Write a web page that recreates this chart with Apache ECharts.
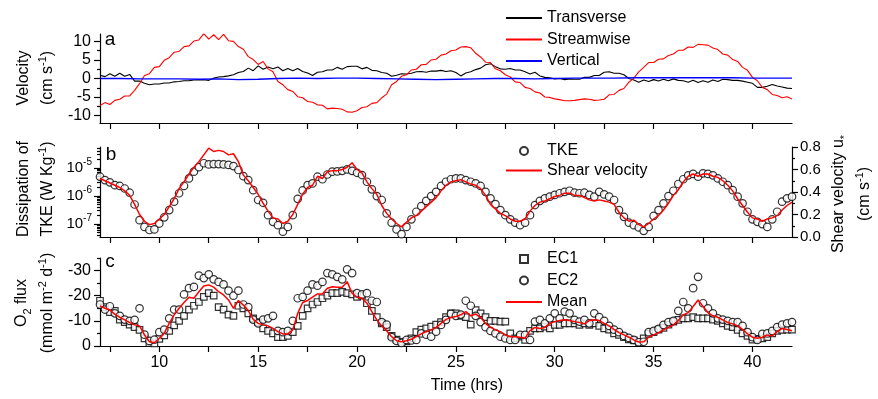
<!DOCTYPE html>
<html>
<head>
<meta charset="utf-8">
<script src="https://cdn.jsdelivr.net/npm/echarts@6/dist/echarts.min.js"></script>
<style>
  html, body { margin: 0; padding: 0; background: #fff; }
  #chart { width: 878px; height: 399px; }
</style>
</head>
<body>
<div id="chart"></div>
<script>
// sampling of the records: every 15 min from 7 h
const sampleStart = 7;
const sampleStep = 0.25;

// panel a - velocity (cm s-1)
const transverse = [
  0.9, 0.5, 1.3, 0.6, 1.4, 0.6, 1.1, -0.7, -0.7, -1.3, -1.7, -1.5, -1.5, -1.2, -1.2, -0.9, -0.8, -0.6, -0.6, -0.4,
  -0.4, -0.3, -0.5, 0.1, 0.4, 0.5, 0.7, 1.0, 1.6, 1.9, 2.8, 2.1, 3.4, 2.5, 3.1, 2.6, 3.1, 2.1, 2.7, 2.1,
  2.7, 1.9, 1.5, 0.8, 1.7, 1.8, 2.3, 2.3, 3.0, 2.5, 3.2, 3.3, 3.3, 2.6, 3.0, 2.2, 2.1, 1.6, 1.4, 0.6,
  0.9, 1.3, 1.2, 1.4, 1.8, 1.9, 1.7, 2.0, 2.0, 2.2, 1.9, 2.1, 1.6, 0.7, 1.5, 1.8, 2.4, 2.8, 3.7, 4.0,
  3.2, 2.6, 2.5, 2.7, 2.3, 2.3, 1.8, 1.2, 1.7, 0.7, 0.3, 0.2, -0.1, 0.0, -0.3, -0.1, -0.2, -0.2, 0.3, 0.3,
  0.8, 0.8, 1.7, 1.8, 1.4, 1.4, 1.0, 0.0, -0.4, -1.0, -0.4, -0.8, -0.3, -0.7, -0.2, -0.6, -0.1, -0.5, -0.6, -1.0,
  -0.5, -1.1, -0.6, -1.0, -0.4, -0.8, -0.2, -0.3, -0.5, -0.5, -0.7, -1.0, -1.3, -2.4, -2.4, -2.1, -1.6, -2.0, -2.3, -2.6,
  -2.7
];
const streamwise = [
  -7.3, -6.5, -7.0, -5.9, -5.6, -4.7, -4.7, -3.2, -1.4, 0.8, 1.3, 3.0, 3.2, 4.9, 5.6, 7.1, 7.3, 8.6, 8.8, 10.1,
  10.4, 12.1, 10.6, 11.8, 10.5, 11.9, 10.2, 10.0, 8.6, 7.9, 5.9, 5.1, 3.8, 4.6, 2.6, 1.8, -0.8, -1.7, -3.0, -3.5,
  -4.9, -5.2, -6.2, -6.4, -7.1, -7.2, -8.2, -8.0, -8.1, -8.3, -9.0, -9.1, -8.7, -7.8, -7.6, -6.7, -6.5, -5.2, -4.2, -1.7,
  -0.8, 0.6, 1.0, 2.3, 2.5, 3.7, 3.8, 5.0, 5.2, 6.3, 6.6, 7.5, 7.7, 8.5, 8.6, 8.3, 6.8, 5.8, 4.4, 4.3,
  2.6, 2.1, 1.0, 0.4, -0.9, -1.1, -2.4, -2.7, -3.6, -3.9, -5.0, -5.1, -5.5, -5.7, -6.0, -6.0, -5.9, -5.7, -5.5, -5.6,
  -5.9, -5.8, -5.6, -4.4, -4.3, -3.2, -2.7, -1.0, 0.1, 1.8, 3.0, 4.3, 4.3, 5.2, 5.3, 6.2, 6.6, 7.6, 7.6, 8.5,
  8.4, 9.2, 9.1, 9.0, 8.2, 7.8, 6.6, 6.3, 5.1, 4.6, 3.0, 2.2, 0.3, -0.6, -2.4, -3.0, -4.3, -4.6, -5.2, -4.9,
  -5.5
];
// vertical is read hourly from 7 h
const verticalStep = 1;
const vertical = [
  0.0, 0.0, -0.1, -0.1, -0.1, -0.2, -0.1, -0.3, -0.2, 0.0, 0.1, 0.0, 0.1, 0.1, 0.0, -0.1, -0.2, -0.3,
  -0.2, -0.1, 0.0, 0.0, -0.1, 0.0, 0.1, 0.1, 0.1, 0.2, 0.2, 0.2, 0.2, 0.2, 0.2, 0.1, 0.1, 0.1
];

// panel b - dissipation of TKE, as log10 (W kg-1)
const tkeLog10 = [
  -5.31, -5.43, -5.51, -5.61, -5.64, -5.73, -5.88, -6.30, -6.86, -7.10, -7.21, -7.19, -6.98, -6.76, -6.50, -6.20, -5.90, -5.64, -5.37, -5.13,
  -4.97, -4.83, -4.87, -4.86, -4.86, -4.87, -4.89, -4.93, -5.07, -5.29, -5.43, -5.79, -6.14, -6.24, -6.68, -6.92, -7.04, -7.27, -7.10, -6.68,
  -6.10, -5.80, -5.61, -5.55, -5.31, -5.40, -5.23, -5.13, -5.12, -5.10, -5.05, -5.10, -5.17, -5.25, -5.49, -5.76, -6.00, -6.14, -6.62, -6.95,
  -7.19, -7.36, -7.10, -6.83, -6.56, -6.36, -6.17, -6.00, -5.85, -5.64, -5.49, -5.40, -5.37, -5.37, -5.43, -5.49, -5.55, -5.64, -5.85, -6.08,
  -6.29, -6.50, -6.68, -6.83, -6.95, -7.04, -6.95, -6.68, -6.32, -6.17, -6.08, -6.02, -5.96, -5.90, -5.85, -5.81, -5.88, -5.90, -5.88, -5.96,
  -6.02, -5.85, -5.94, -6.02, -6.14, -6.50, -6.74, -6.95, -7.04, -7.12, -7.24, -7.10, -6.71, -6.50, -6.26, -6.00, -5.81, -5.57, -5.40, -5.26,
  -5.21, -5.31, -5.19, -5.21, -5.26, -5.37, -5.49, -5.61, -5.79, -6.02, -6.26, -6.56, -6.83, -6.92, -7.00, -7.10, -6.83, -6.56, -6.20, -6.08,
  -6.02
];
// shear velocity u* (cm s-1)
const shearVelocity = [
  0.52, 0.50, 0.48, 0.46, 0.44, 0.41, 0.37, 0.29, 0.20, 0.14, 0.11, 0.12, 0.16, 0.20, 0.27, 0.34, 0.43, 0.49, 0.56, 0.62,
  0.67, 0.73, 0.79, 0.76, 0.77, 0.76, 0.73, 0.74, 0.67, 0.55, 0.50, 0.44, 0.38, 0.30, 0.23, 0.17, 0.16, 0.12, 0.14, 0.20,
  0.29, 0.38, 0.44, 0.46, 0.54, 0.52, 0.58, 0.59, 0.59, 0.60, 0.62, 0.66, 0.60, 0.57, 0.49, 0.43, 0.38, 0.28, 0.21, 0.16,
  0.12, 0.09, 0.13, 0.17, 0.19, 0.23, 0.27, 0.31, 0.35, 0.41, 0.46, 0.49, 0.50, 0.51, 0.49, 0.47, 0.46, 0.43, 0.37, 0.29,
  0.25, 0.21, 0.19, 0.16, 0.14, 0.14, 0.16, 0.23, 0.28, 0.31, 0.32, 0.34, 0.36, 0.37, 0.39, 0.39, 0.37, 0.37, 0.35, 0.33,
  0.32, 0.33, 0.32, 0.31, 0.29, 0.22, 0.17, 0.14, 0.15, 0.11, 0.09, 0.12, 0.16, 0.19, 0.24, 0.30, 0.37, 0.42, 0.49, 0.54,
  0.56, 0.54, 0.56, 0.56, 0.54, 0.53, 0.50, 0.46, 0.41, 0.34, 0.28, 0.22, 0.17, 0.16, 0.14, 0.16, 0.17, 0.19, 0.24, 0.28,
  0.31
];

// panel c - O2 flux (mmol m-2 d-1)
const ec1 = [
  -18.0, -15.5, -13.5, -14.0, -10.5, -9.5, -8.5, -7.5, -6.4, -3.0, -1.2, -1.0, -2.8, -4.2, -6.0, -8.2, -10.0, -12.0, -14.5, -16.0,
  -17.5, -19.5, -21.0, -20.0, -15.5, -14.5, -12.5, -12.0, -16.0, -15.0, -13.0, -11.0, -9.5, -7.0, -6.0, -5.0, -3.5, -3.5, -4.0, -5.5,
  -8.0, -12.0, -15.0, -16.5, -17.5, -19.0, -20.0, -21.0, -21.0, -21.5, -21.0, -20.5, -19.5, -20.0, -17.0, -14.0, -11.5, -9.0, -7.5, -4.0,
  -2.5, -1.7, -1.8, -3.0, -5.5, -6.5, -7.0, -7.7, -8.5, -9.5, -11.5, -13.0, -13.0, -12.0, -11.5, -8.5, -14.3, -13.0, -11.5, -10.0,
  -10.0, -9.7, -9.7, -5.0, -3.0, -3.7, -2.4, -6.0, -7.0, -7.0, -7.7, -7.0, -8.4, -8.4, -9.0, -9.0, -9.0, -8.4, -9.0, -8.4,
  -9.0, -8.0, -7.0, -6.5, -5.0, -4.4, -3.5, -2.6, -2.2, -1.6, -3.0, -4.8, -5.5, -6.5, -7.2, -8.5, -9.7, -10.4, -11.0, -11.0,
  -11.5, -11.0, -11.0, -11.0, -10.5, -10.0, -9.0, -8.0, -7.5, -6.4, -5.0, -4.0, -2.5, -2.8, -3.0, -3.5, -5.0, -6.0, -6.4, -6.5,
  -6.5
];
const ec2 = [
  -16.5, -14.5, -15.8, -13.0, -12.0, -10.5, -10.0, -10.4, -15.0, -4.5, -2.0, -2.5, -5.5, -6.5, -11.0, -14.5, -14.5, -20.5, -23.0, -23.5,
  -28.0, -27.0, -28.5, -26.5, -25.5, -24.5, -22.0, -20.0, -22.0, -16.5, -15.5, -10.5, -9.0, -10.5, -11.0, -12.0, -6.0, -5.5, -6.0, -10.0,
  -19.0, -19.5, -22.0, -24.5, -24.0, -25.5, -29.0, -28.5, -27.5, -26.5, -30.5, -29.0, -21.0, -20.5, -21.0, -18.0, -17.5, -9.5, -8.5, -3.5,
  -2.0, -1.2, -2.4, -2.2, -2.4, -5.0, -4.5, -3.7, -5.7, -8.4, -10.4, -12.8, -12.0, -12.5, -18.0, -16.0, -12.0, -9.5, -7.5, -6.0,
  -5.0, -3.7, -3.0, -2.4, -2.4, -4.4, -4.4, -2.4, -9.7, -10.4, -9.0, -11.0, -13.0, -11.0, -13.7, -13.0, -10.4, -9.7, -10.4, -9.0,
  -13.0, -11.5, -10.0, -8.0, -6.5, -5.5, -4.0, -3.2, -2.4, -1.5, -1.7, -5.5, -6.0, -6.8, -8.4, -9.5, -10.0, -14.0, -17.5, -15.0,
  -23.0, -27.5, -17.0, -15.0, -13.0, -11.0, -10.5, -10.0, -9.5, -9.5, -8.0, -5.5, -3.5, -2.4, -4.8, -5.0, -6.0, -7.5, -8.5, -9.0,
  -9.5
];
const fluxMean = [
  -15.9, -15.0, -14.3, -12.7, -11.4, -10.4, -9.3, -8.4, -8.0, -4.4, -1.7, -1.3, -3.1, -5.0, -9.0, -12.4, -15.0, -17.3, -19.4, -19.0,
  -21.6, -23.9, -24.3, -23.4, -21.6, -20.3, -18.3, -15.0, -18.1, -16.3, -14.1, -10.6, -9.0, -8.4, -8.0, -7.0, -5.7, -4.8, -4.8, -6.4,
  -13.0, -17.3, -18.1, -19.4, -20.7, -20.7, -23.0, -23.6, -23.4, -23.4, -25.6, -21.0, -19.4, -19.0, -17.0, -13.7, -10.4, -8.0, -6.1, -3.7,
  -2.1, -1.7, -2.1, -2.7, -3.7, -4.8, -5.7, -6.4, -7.4, -9.0, -10.6, -11.3, -11.7, -12.4, -13.7, -12.0, -12.7, -11.4, -9.0, -7.4,
  -6.4, -5.7, -4.4, -3.7, -3.7, -3.5, -3.1, -6.1, -7.4, -7.0, -7.4, -9.0, -9.7, -10.1, -10.4, -10.1, -9.7, -9.3, -8.8, -10.1,
  -10.4, -10.1, -9.0, -8.0, -6.6, -5.3, -4.4, -3.5, -2.4, -1.6, -1.7, -3.5, -4.4, -5.3, -6.4, -7.4, -8.4, -10.1, -12.4, -13.3,
  -15.7, -18.3, -15.7, -13.3, -12.0, -11.4, -10.4, -9.3, -8.8, -8.0, -6.6, -4.8, -3.5, -3.1, -3.5, -4.4, -4.0, -5.7, -7.0, -6.6,
  -6.1
];

// axis ticks
const xTicks = [7.5, 10, 12.5, 15, 17.5, 20, 22.5, 25, 27.5, 30, 32.5, 35, 37.5, 40];
const xLabels = [10, 15, 20, 25, 30, 35, 40];
const velTicks = [-10, -5, 0, 5, 10];
const fluxTicks = [-30, -20, -10, 0];
const tkeDecades = [-7, -6, -5];

const FONT = '"Liberation Sans", Arial, sans-serif';
const tkeMin = -7.46, tkeMax = -4.25;

const withTime = (vals, step) => vals.map((v, i) => [sampleStart + i * step, v]);

// minor ticks of the log axis (2..9 of each decade)
const tkeMinor = [];
for (let n = -8; n <= -5; n++) {
  for (let k = 2; k <= 9; k++) {
    const v = n + Math.log10(k);
    if (v > tkeMin && v < tkeMax) tkeMinor.push(v);
  }
}

const black = { color: '#000', width: 1.2 };

function xAxisFor(gi, labels) {
  return {
    type: 'value', gridIndex: gi, min: 7, max: 42,
    axisLine: { show: true, onZero: false, lineStyle: black },
    axisTick: { show: true, length: 6, customValues: xTicks, lineStyle: black },
    axisLabel: { show: labels, customValues: xLabels, margin: 9, fontSize: 16, color: '#000', fontFamily: FONT },
    splitLine: { show: false }
  };
}

function minorY(gi, min, max, ticks, extra) {
  return Object.assign({
    type: 'value', gridIndex: gi, position: 'left', min: min, max: max,
    axisLine: { show: false, onZero: false },
    axisTick: { show: true, length: 3, customValues: ticks, lineStyle: black },
    axisLabel: { show: false },
    splitLine: { show: false }
  }, extra || {});
}

const labelStyle = { fontSize: 16, color: '#000', fontFamily: FONT, margin: 9 };

const titleRich = {
  n: { fontSize: 16, fontFamily: FONT, fill: '#000', lineHeight: 22, verticalAlign: 'middle' },
  p: { fontSize: 11, fontFamily: FONT, fill: '#000', verticalAlign: 'top' },
  b: { fontSize: 11, fontFamily: FONT, fill: '#000', verticalAlign: 'bottom' }
};

function vText(x, y, text) {
  return {
    type: 'text', x: x, y: y, rotation: Math.PI / 2,
    style: { text: text, rich: titleRich, align: 'center', verticalAlign: 'middle', fill: '#000' }
  };
}

function plainText(x, y, text, size) {
  return {
    type: 'text', x: x, y: y,
    style: { text: text, fontSize: size, fontFamily: FONT, fill: '#000', align: 'center', verticalAlign: 'middle' }
  };
}

const legendBase = {
  orient: 'vertical', left: 505, padding: 0, itemWidth: 36,
  textStyle: { fontSize: 16, color: '#000', fontFamily: FONT },
  lineStyle: { width: 2 },
  selectedMode: false
};

// legend entries of the lines: line only, no marker
const lineItem = name => ({ name: name, itemStyle: { opacity: 0 } });
const squareIcon = 'path://M0,0L10,0L10,10L0,10Z';

const openCircle = { color: '#fff', borderColor: '#000', borderWidth: 1.2 };

const option = {
  animation: false,
  backgroundColor: '#fff',
  grid: [
    { left: 100, right: 86, top: 34, height: 89, outerBoundsMode: 'none' },
    { left: 100, right: 86, top: 147, height: 90, outerBoundsMode: 'none' },
    { left: 100, right: 86, top: 258, height: 88, outerBoundsMode: 'none' }
  ],
  xAxis: [xAxisFor(0, false), xAxisFor(1, false), xAxisFor(2, true)],
  yAxis: [
    {
      type: 'value', gridIndex: 0, position: 'left', min: -12, max: 12,
      axisLine: { show: true, onZero: false, lineStyle: black },
      axisTick: { show: true, length: 6, customValues: velTicks, lineStyle: black },
      axisLabel: Object.assign({ customValues: velTicks }, labelStyle),
      splitLine: { show: false }
    },
    minorY(0, -12, 12, [-7.5, -2.5, 2.5, 7.5]),
    {
      type: 'value', gridIndex: 1, position: 'left', min: tkeMin, max: tkeMax,
      axisLine: { show: true, onZero: false, lineStyle: black },
      axisTick: { show: true, length: 6, customValues: tkeDecades, lineStyle: black },
      axisLabel: {
        customValues: tkeDecades, margin: 8,
        formatter: v => '{b|10}{s|' + Math.round(v) + '}',
        rich: {
          b: { fontSize: 15, color: '#000', fontFamily: FONT, lineHeight: 22, verticalAlign: 'middle' },
          s: { fontSize: 10, color: '#000', fontFamily: FONT, verticalAlign: 'top' }
        }
      },
      splitLine: { show: false }
    },
    minorY(1, tkeMin, tkeMax, tkeMinor),
    {
      type: 'value', gridIndex: 1, position: 'right', min: 0, max: 0.8, interval: 0.2,
      axisLine: { show: true, onZero: false, lineStyle: black },
      axisTick: { show: true, length: 6, lineStyle: black },
      minorTick: { show: true, splitNumber: 2, length: 3, lineStyle: black },
      axisLabel: { fontSize: 15, color: '#000', fontFamily: FONT, margin: 8, formatter: v => v.toFixed(1) },
      splitLine: { show: false }
    },
    {
      type: 'value', gridIndex: 2, position: 'left', min: -35, max: 0, inverse: true,
      axisLine: { show: true, onZero: false, lineStyle: black },
      axisTick: { show: true, length: 6, customValues: fluxTicks, lineStyle: black },
      axisLabel: Object.assign({ customValues: fluxTicks }, labelStyle),
      splitLine: { show: false }
    },
    minorY(2, -35, 0, [-35, -25, -15, -5], { inverse: true })
  ],
  legend: [
    Object.assign({}, legendBase, {
      top: 10, itemHeight: 14, itemGap: 5.5,
      data: [lineItem('Transverse'), lineItem('Streamwise'), lineItem('Vertical')]
    }),
    Object.assign({}, legendBase, {
      top: 143, itemHeight: 8, itemGap: 3.5,
      data: ['TKE', lineItem('Shear velocity')]
    }),
    Object.assign({}, legendBase, {
      top: 251, itemHeight: 8, itemGap: 5.5,
      data: [{ name: 'EC1', icon: squareIcon }, 'EC2', lineItem('Mean')]
    })
  ],
  series: [
    {
      name: 'Transverse', type: 'line', xAxisIndex: 0, yAxisIndex: 0, symbol: 'none',
      data: withTime(transverse, sampleStep), lineStyle: { color: '#000', width: 1.1 }, itemStyle: { color: '#000' }
    },
    {
      name: 'Streamwise', type: 'line', xAxisIndex: 0, yAxisIndex: 0, symbol: 'none',
      data: withTime(streamwise, sampleStep), lineStyle: { color: '#ff0000', width: 1.1 }, itemStyle: { color: '#ff0000' }
    },
    {
      name: 'Vertical', type: 'line', xAxisIndex: 0, yAxisIndex: 0, symbol: 'none',
      data: withTime(vertical, verticalStep), lineStyle: { color: '#0000ff', width: 1.4 }, itemStyle: { color: '#0000ff' }
    },
    {
      name: 'Shear velocity', type: 'line', xAxisIndex: 1, yAxisIndex: 4, symbol: 'none',
      data: withTime(shearVelocity, sampleStep), lineStyle: { color: '#ff0000', width: 1.5 }, itemStyle: { color: '#ff0000' }
    },
    {
      name: 'TKE', type: 'scatter', xAxisIndex: 1, yAxisIndex: 2, symbol: 'circle', symbolSize: 7.5,
      data: withTime(tkeLog10, sampleStep), itemStyle: openCircle
    },
    {
      name: 'EC1', type: 'scatter', xAxisIndex: 2, yAxisIndex: 5, symbol: 'rect', symbolSize: 6.5,
      data: withTime(ec1, sampleStep), itemStyle: openCircle
    },
    {
      name: 'EC2', type: 'scatter', xAxisIndex: 2, yAxisIndex: 5, symbol: 'circle', symbolSize: 7.5,
      data: withTime(ec2, sampleStep), itemStyle: openCircle
    },
    {
      name: 'Mean', type: 'line', xAxisIndex: 2, yAxisIndex: 5, symbol: 'none',
      data: withTime(fluxMean, sampleStep), lineStyle: { color: '#ff0000', width: 1.5 }, itemStyle: { color: '#ff0000' }
    }
  ],
  graphic: [
    vText(24, 78, '{n|Velocity}'),
    vText(48, 78, '{n|(cm s}{p|-1}{n|)}'),
    vText(24, 189, '{n|Dissipation of}'),
    vText(48, 189, '{n|TKE (W Kg}{p|-1}{n|)}'),
    vText(22, 303, '{n|O}{b|2}{n| flux}'),
    vText(48, 303, '{n|(mmol m}{p|-2}{n| d}{p|-1}{n|)}'),
    vText(839, 194, '{n|Shear velocity u}{b|*}'),
    vText(865, 194, '{n|(cm s}{p|-1}{n|)}'),
    plainText(110, 40, 'a', 19),
    plainText(111, 155, 'b', 19),
    plainText(110, 262, 'c', 19),
    plainText(467, 386, 'Time (hrs)', 16)
  ]
};

const chart = echarts.init(document.getElementById('chart'));
chart.setOption(option);
</script>
</body>
</html>
